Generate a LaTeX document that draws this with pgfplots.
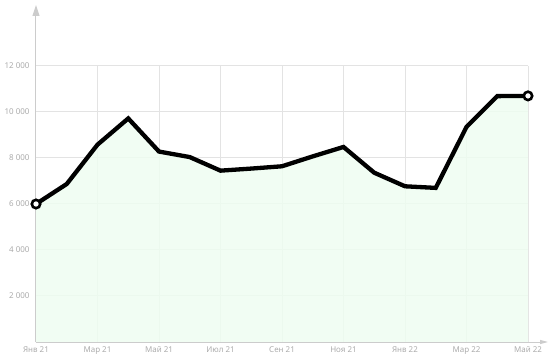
\documentclass[border=0pt]{standalone}
\usepackage{fontspec}
\setmainfont{Noto Sans}
\usepackage{pgfplots}
\pgfplotsset{compat=1.18}
\usetikzlibrary{arrows.meta}
\definecolor{gridc}{HTML}{E3E3E3}
\definecolor{axisc}{HTML}{CCCCCC}
\definecolor{labc}{HTML}{ABABAB}
\definecolor{fillc}{HTML}{EEFDF1}
\newcommand{\ts}{\kern2bp}
\begin{document}
\begin{tikzpicture}[x=1bp,y=1bp]
\begin{axis}[
  scale only axis, width=492bp, height=276bp,
  xmin=0, xmax=16, ymin=0, ymax=12000,
  scaled y ticks=false,
  xtick={0,2,...,16},
  xticklabels={Янв 21,Мар 21,Май 21,Июл 21,Сен 21,Ноя 21,Янв 22,Мар 22,Май 22},
  ytick={2000,4000,...,12000},
  yticklabels={{2\ts000},{4\ts000},{6\ts000},{8\ts000},{10\ts000},{12\ts000}},
  grid=major, major grid style={gridc, line width=1bp},
  axis line style={draw=none}, major tick length=0pt,
  tick label style={font=\fontsize{8bp}{9.5bp}\selectfont, text=labc},
  yticklabel style={xshift=-3bp},
  xticklabel style={text height=6bp, text depth=1.5bp, yshift=-1bp},
  clip=false,
]
\addplot[draw=none, fill=fillc, fill opacity=0.85] coordinates {
(0,6000)(1,6870)(2,8580)(3,9720)(4,8280)(5,8040)(6,7450)(7,7540)(8,7640)(9,8070)(10,8480)(11,7360)(12,6770)(13,6700)(14,9350)(15,10690)(16,10700)
} \closedcycle;
\draw[axisc, line width=1bp, -{Triangle[length=11bp,width=7bp]}] (axis cs:0,0) -- ++(0,337bp);
\draw[axisc, line width=1bp, -{Triangle[length=8bp,width=4bp]}] (axis cs:0,0) -- ++(512bp,0);
\addplot[black, line width=4.3bp, line join=miter, mark=none] coordinates {
(0,6000)(1,6870)(2,8580)(3,9720)(4,8280)(5,8040)(6,7450)(7,7540)(8,7640)(9,8070)(10,8480)(11,7360)(12,6770)(13,6700)(14,9350)(15,10690)(16,10700)
};
\addplot[black, line width=2.6bp, only marks, mark=*, mark size=4.2bp, mark options={fill=white}] coordinates {(0,6000)(16,10700)};
\end{axis}
\pgfresetboundingbox
\path[use as bounding box] (-36bp,-14bp) rectangle (514bp,342bp);
\end{tikzpicture}
\end{document}
